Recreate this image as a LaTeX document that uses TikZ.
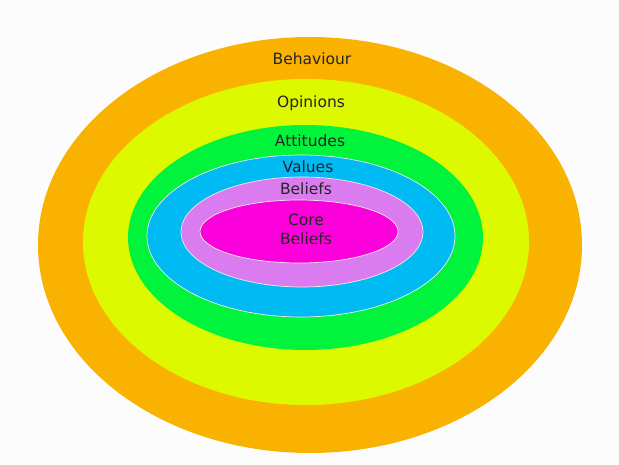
\documentclass[tikz,border=0pt]{standalone}
\usepackage{fontspec}
\setmainfont{DejaVu Sans}
\definecolor{behavcol}{HTML}{FAB200}
\definecolor{opincol}{HTML}{DDF900}
\definecolor{attcol}{HTML}{02F33C}
\definecolor{valcol}{HTML}{00BAF4}
\definecolor{belcol}{HTML}{DA7CF0}
\definecolor{corecol}{HTML}{FB00DA}
\definecolor{labelcol}{HTML}{252525}
\tikzset{
  ring/.style={draw=white!85!gray, line width=0.7pt},
  ringlabel/.style={text=labelcol, font=\fontsize{15.5}{17}\selectfont, inner sep=0pt, align=center}
}
\begin{document}
\begin{tikzpicture}[x=1pt,y=-1pt]
\fill[white!99!black] (0,0) rectangle (619,465);
\useasboundingbox (0,0) rectangle (619,465);
\fill[behavcol] (310,245) ellipse (272 and 208);
\fill[opincol] (306,242) ellipse (223 and 163);
\fill[attcol] (305.5,237.5) ellipse (177.5 and 112.5);
\fill[valcol,ring] (301,236) ellipse (154 and 81);
\fill[belcol,ring] (302,232) ellipse (121 and 55);
\fill[corecol,ring] (299,231.5) ellipse (99 and 31.5);
\node[ringlabel] (behaviour) at (312,59) {Behaviour};
\node[ringlabel] (opinions) at (311,103) {Opinions};
\node[ringlabel] (attitudes) at (310,141) {Attitudes};
\node[ringlabel] (values) at (308,167) {Values};
\node[ringlabel] (beliefs) at (306,189) {Beliefs};
\node[ringlabel] (core) at (306,229) {Core\\[2pt]Beliefs};
\end{tikzpicture}
\end{document}
